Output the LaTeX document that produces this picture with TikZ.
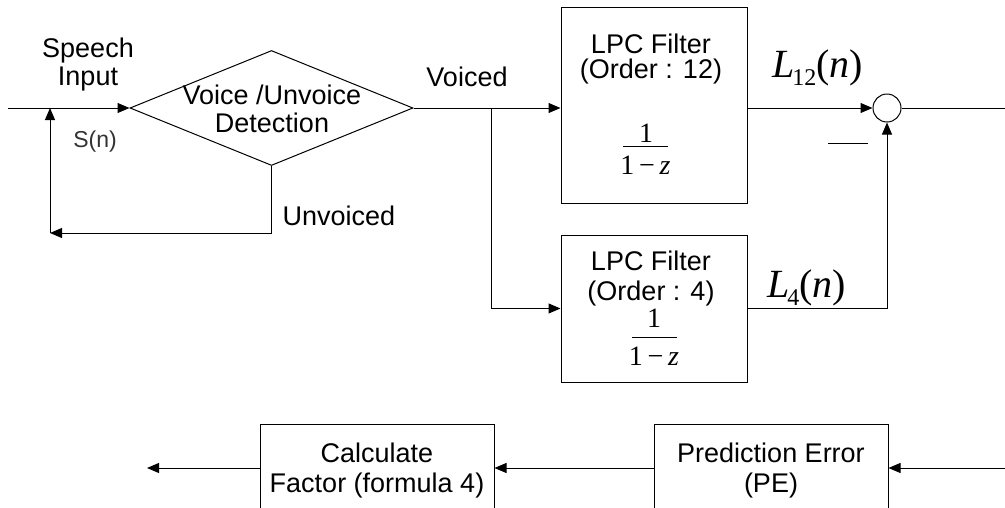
\documentclass[tikz,border=0pt]{standalone}
\usepackage{fontspec}
\setmainfont{Liberation Sans}
\newfontfamily\serif{Liberation Serif}
\usetikzlibrary{arrows.meta,shapes.geometric}
\begin{document}
\begin{tikzpicture}[x=1pt,y=-1pt,
  ln/.style={line width=1pt},
  arr/.style={line width=1pt,-{Triangle[length=12pt,width=10pt]}},
  blk/.style={draw,line width=1pt,inner sep=0pt},
  txt/.style={font=\fontsize{27}{30}\selectfont,inner sep=0pt,anchor=base},
  small/.style={font=\fontsize{23}{26}\selectfont,inner sep=0pt,anchor=base,text=black!80},
  mth/.style={font=\serif\fontsize{40}{44}\selectfont,inner sep=0pt,anchor=base west},
  frc/.style={font=\serif\fontsize{28}{30}\selectfont,inner sep=0pt,anchor=base},
  bar/.style={inner sep=0pt}]
\useasboundingbox (0,0) rectangle (1005,507);
\clip (0,0) rectangle (1005,507);

% shapes
\node[draw,diamond,line width=1pt,inner sep=0pt,minimum width=283pt,minimum height=115pt] (dia) at (271.5,108) {};
\node[blk,minimum width=186pt,minimum height=196pt] (f12) at (654,105) {};
\node[blk,minimum width=186pt,minimum height=147pt] (f4) at (654,308.5) {};
\node[draw,circle,line width=1pt,inner sep=0pt,minimum size=28pt] (sum) at (887,108) {};
\node[blk,minimum width=234pt,minimum height=88pt] (calc) at (377,468) {};
\node[blk,minimum width=234pt,minimum height=88pt] (pe) at (771,468) {};

% texts
\node[txt] (sp1) at (88,57) {Speech};
\node[txt] (sp2) at (88,85) {Input};
\node[small] (sn) at (95,147) {S(n)};
\node[txt] (d1) at (272,104) {Voice /Unvoice};
\node[txt] (d2) at (272,132) {Detection};
\node[txt] (uv) at (339,225) {Unvoiced};
\node[txt] (vo) at (467,86) {Voiced};

\node[txt] (a1) at (651,53) {LPC Filter};
\node[txt] (a2) at (651,78) {(Order : 12)};
\node[frc] (a3) at (646,142) {1};
\node[bar] (a4) at (645.5,146) {\rule{45pt}{1pt}};
\node[frc] (a5) at (645.5,174) {1\,−\,\textit{z}};

\node[txt] (b1) at (651,270) {LPC Filter};
\node[txt] (b2) at (651,300) {(Order : 4)};
\node[frc] (b3) at (654,327) {1};
\node[bar] (b4) at (654.5,337) {\rule{45pt}{1pt}};
\node[frc] (b5) at (654,365) {1\,−\,\textit{z}};

\node[mth] (l12) at (772,77) {\textit{L}\kern-2pt\raisebox{-8pt}{\fontsize{24}{24}\selectfont 12}(\textit{n})};
\node[mth] (l4) at (767,297) {\textit{L}\kern-2pt\raisebox{-8pt}{\fontsize{24}{24}\selectfont 4}(\textit{n})};
\node[bar] (minus) at (848,143) {\rule{40pt}{1pt}};

\node[txt] (c1) at (377,462) {Calculate};
\node[txt] (c2) at (377,492) {Factor (formula 4)};
\node[txt] (p1) at (771,462) {Prediction Error};
\node[txt] (p2) at (771,492) {(PE)};

% connectors
\coordinate (inS) at (8,108);
\coordinate (fbc) at (50,233);
\coordinate (fbj) at (50,108);
\coordinate (br) at (491,108);
\coordinate (outR) at (1005,108);
\coordinate (peIn) at (1005,468);
\coordinate (calcOut) at (147,468);

\draw[arr] (inS) -- (dia.west);
\draw[arr] (dia.south) |- (fbc);
\draw[arr] (fbc) -- (fbj);
\draw[arr] (dia.east) -- (f12.west |- dia.east);
\draw[arr] (br) |- (f4.west);
\draw[arr] (f12.east |- sum) -- (sum.west);
\draw[ln] (sum.east) -- (outR);
\draw[arr] (f4.east) -| (sum.south);
\draw[arr] (peIn) -- (pe.east);
\draw[arr] (pe.west) -- (calc.east);
\draw[arr] (calc.west) -- (calcOut);
\end{tikzpicture}
\end{document}
